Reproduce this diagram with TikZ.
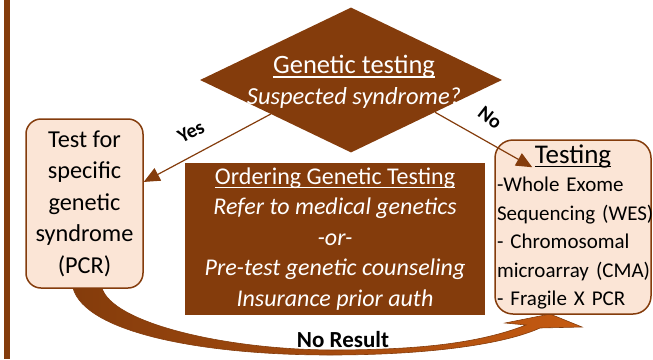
\documentclass[tikz,border=0pt]{standalone}
\usepackage{fontspec}
\setmainfont{Carlito}
\usetikzlibrary{calc,shapes.geometric,arrows.meta}
\definecolor{rust}{HTML}{843C0C}
\definecolor{peach}{HTML}{FBE5D6}
\definecolor{amber}{HTML}{C55A11}
\newcommand{\uln}[1]{\setbox0\hbox{#1}\leavevmode\rlap{\rule[-4pt]{\wd0}{1.4pt}}\box0}
\tikzset{
  decision/.style={diamond, fill=rust, minimum width=302, minimum height=145, inner sep=0pt},
  testbox/.style={rectangle, rounded corners=15pt, draw=rust, line width=1.5pt, fill=peach},
  orderbox/.style={rectangle, fill=rust, text=white, minimum width=300, minimum height=152, align=center},
  branch/.style={draw=rust, line width=1.2pt, -{Triangle[length=16pt,width=14pt]}},
  branchlbl/.style={font=\fontsize{20}{22}\selectfont\bfseries}
}

\begin{document}
\begin{tikzpicture}[x=1pt,y=-1pt]
	\useasboundingbox (0,0) rectangle (653,359);
	%%%%% START %%%%%
	\fill[rust] (4,0) rectangle (10,359);

	% no result arrow
	\shadedraw[left color=rust, right color=amber, draw=rust, line width=0.6pt]
		(73,288) .. controls (85,332) and (200,355) .. (330,355)
		.. controls (430,355) and (505,344) .. (540,328)
		-- (582,327) -- (550,314) -- (505,323) -- (526,325)
		.. controls (480,343) and (420,350) .. (330,350)
		.. controls (220,349) and (112,322) .. (102,288) -- cycle;
	\node[font=\fontsize{23}{24}\selectfont\bfseries] (noresult) at (343,340) {No Result};

	\node[decision] (gt) at (351,80) {};
	\node[text=white, align=center, font=\fontsize{26.5}{31}\selectfont] (gttext) at (354,82)
		{\uln{Genetic testing}\\ \fontsize{24.5}{31}\selectfont\itshape Suspected syndrome?};

	\node[testbox, minimum width=117, minimum height=169, align=center,
		font=\fontsize{24.3}{31.5}\selectfont] (specific) at (84.5,203.5)
		{Test for\\ specific\\ genetic\\ syndrome\\ (PCR)};

	\node[testbox, rounded corners=18pt, minimum height=174, text width=152, inner sep=2pt, align=left,
		font=\fontsize{21}{28.5}\selectfont] (testing) at (573,227)
		{\makebox[\linewidth]{\fontsize{27}{28.5}\selectfont\uln{Testing}}\\ \mbox{-Whole Exome}\\ \mbox{Sequencing (WES)}\\
		 \mbox{- Chromosomal}\\ \mbox{microarray (CMA)}\\ \mbox{- Fragile X PCR}};

	\node[orderbox, font=\fontsize{24}{30.5}\selectfont] (ordering) at (335,239)
		{\uln{Ordering Genetic Testing}\\ \itshape Refer to medical genetics\\ \itshape -or-\\
		 \itshape Pre-test genetic counseling\\ \itshape Insurance prior auth};

	\coordinate (notip) at ($(testing.north west)+(38,28)$);
	\draw[branch] (gt.203) -- (specific.20);
	\draw[branch] (gt.-21) -- (notip);
	\node[branchlbl, rotate=28] (yes) at (191,132) {Yes};
	\node[branchlbl, rotate=-38] (no) at (490,118) {No};
	%%%%% END %%%%%
\end{tikzpicture}
\end{document}
